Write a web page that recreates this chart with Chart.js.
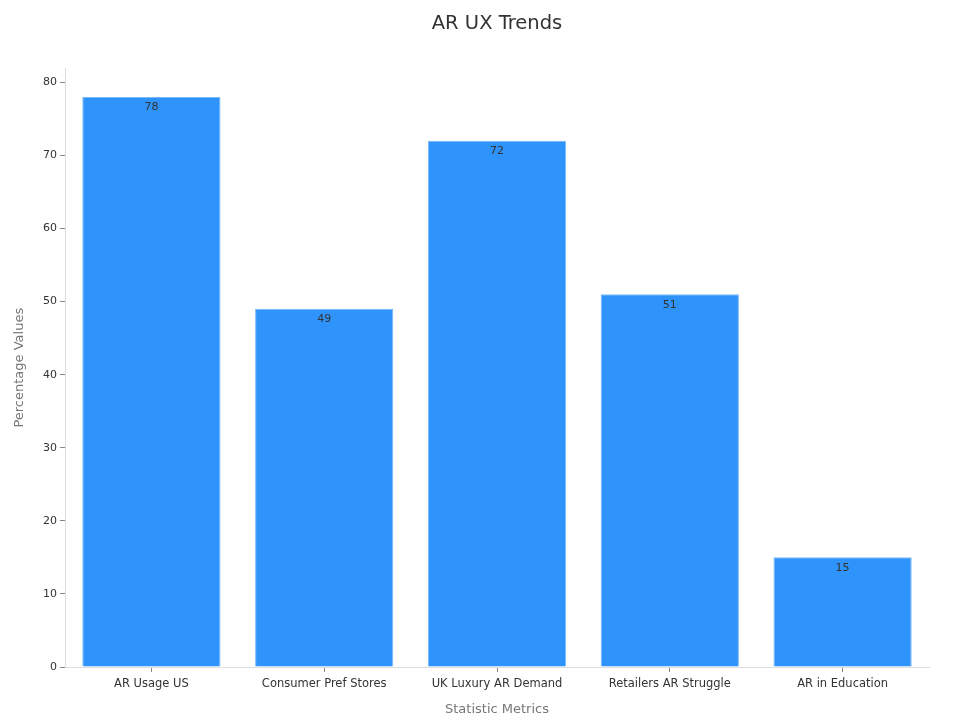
<!DOCTYPE html>
<html>
<head>
<meta charset="utf-8">
<script src="https://cdn.jsdelivr.net/npm/chart.js@4"></script>
<style>
    html, body { margin: 0; padding: 0; background: #fff; }
    #wrap { width: 969px; height: 724px; }
</style>
</head>
<body>
<div id="wrap"><canvas id="chart" width="969" height="724"></canvas></div>
<script>
// Chart data
const categories = ['AR Usage US', 'Consumer Pref Stores', 'UK Luxury AR Demand', 'Retailers AR Struggle', 'AR in Education'];
const values = [78, 49, 72, 51, 15];
const yTicks = [0, 10, 20, 30, 40, 50, 60, 70, 80];

// Draw value labels just inside the top of each bar
const barLabels = {
    id: 'barLabels',
    afterDatasetsDraw(chart) {
        const ctx = chart.ctx;
        const meta = chart.getDatasetMeta(0);
        ctx.save();
        ctx.font = '11px "DejaVu Sans"';
        ctx.fillStyle = '#333';
        ctx.textAlign = 'center';
        ctx.textBaseline = 'top';
        meta.data.forEach((bar, i) => {
            ctx.fillText(values[i], bar.x, bar.y + 5);
        });
        ctx.restore();
    }
};

Chart.defaults.font.family = '"DejaVu Sans", sans-serif';

new Chart(document.getElementById('chart'), {
    type: 'bar',
    data: {
        labels: categories,
        datasets: [{
            data: values,
            backgroundColor: '#2E93FA',
            borderColor: '#7ab9f7',
            borderWidth: 1,
            categoryPercentage: 0.8,
            barPercentage: 1.0,
        }],
    },
    options: {
        responsive: false,
        animation: false,
        layout: { padding: { left: 0, right: 40, top: 0, bottom: 0 } },
        plugins: {
            legend: { display: false },
            tooltip: { enabled: false },
            title: {
                display: true,
                fullSize: false,
                text: 'AR UX Trends',
                color: '#333',
                font: { size: 19.5, weight: 'normal' },
                padding: { top: 12, bottom: 33 },
            },
        },
        scales: {
            x: {
                afterFit: (s) => { s.height = 57; },
                border: { color: '#ddd' },
                grid: { display: true, drawOnChartArea: false, offset: false, tickLength: 5, color: '#888' },
                ticks: { color: '#333', font: { size: 11.5 }, padding: 5 },
                title: { display: true, text: 'Statistic Metrics', color: '#777', font: { size: 13 }, padding: { top: 4, bottom: 7 } },
            },
            y: {
                min: 0,
                max: 81.9,
                afterFit: (s) => { s.width = 65; },
                afterBuildTicks: (s) => { s.ticks = yTicks.map(v => ({ value: v })); },
                border: { color: '#ddd' },
                grid: { display: true, drawOnChartArea: false, tickLength: 5, color: '#888' },
                ticks: { color: '#333', font: { size: 11 }, padding: 3 },
                title: { display: true, text: 'Percentage Values', color: '#777', font: { size: 13 }, padding: { top: 12, bottom: 4 } },
            },
        },
    },
    plugins: [barLabels],
});
</script>
</body>
</html>
